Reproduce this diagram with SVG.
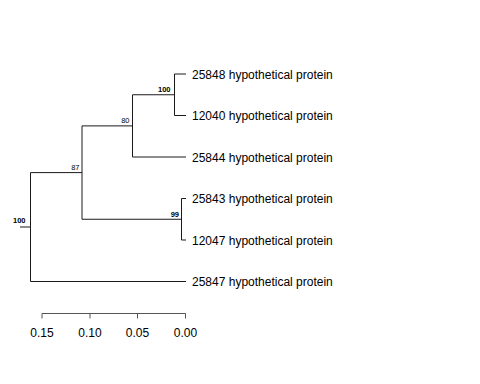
<svg xmlns="http://www.w3.org/2000/svg" width="480" height="384" viewBox="0 0 480 384">
<style>
.br{stroke:#1a1a1a;stroke-width:1;fill:none}
.ax{stroke:#555;stroke-width:1;fill:none}
.leaf{font-family:"Liberation Sans",Arial,sans-serif;font-size:12px;fill:#000}
.bs{font-family:"Liberation Sans",Arial,sans-serif;font-size:7.5px;fill:#000;text-anchor:end}
.bsb{font-weight:bold}
.tick{font-family:"Liberation Sans",Arial,sans-serif;font-size:12px;fill:#000;text-anchor:middle}
</style>
<rect width="480" height="384" fill="#fff"/>
<g id="connectors">
<path class="br" d="M174.5,74 V115.5 M174.5,74 H186 M174.5,115.5 H186"/>
<path class="br" d="M132.5,94.75 H174.5 M132.5,94.75 V157 M132.5,157 H186"/>
<path class="br" d="M181.5,198.5 V240 M181.5,198.5 H186 M181.5,240 H186"/>
<path class="br" d="M82,125.9 H132.5 M82,219.25 H181.5 M82,125.9 V219.25"/>
<path class="br" d="M30.5,172.6 H82 M30.5,172.6 V281.5 M30.5,281.5 H186 M20,227 H30.5"/>
</g>
<g id="leaf-25848"><text class="leaf" x="192" y="78.5">25848 hypothetical protein</text></g>
<g id="leaf-12040"><text class="leaf" x="192" y="120">12040 hypothetical protein</text></g>
<g id="leaf-25844"><text class="leaf" x="192" y="161.5">25844 hypothetical protein</text></g>
<g id="leaf-25843"><text class="leaf" x="192" y="203">25843 hypothetical protein</text></g>
<g id="leaf-12047"><text class="leaf" x="192" y="244.5">12047 hypothetical protein</text></g>
<g id="leaf-25847"><text class="leaf" x="192" y="286">25847 hypothetical protein</text></g>
<g id="node-100a"><text class="bs bsb" x="170.5" y="91.5">100</text></g>
<g id="node-80"><text class="bs" x="129.5" y="122.7">80</text></g>
<g id="node-87"><text class="bs" x="79.5" y="170">87</text></g>
<g id="node-99"><text class="bs bsb" x="179" y="216.7">99</text></g>
<g id="node-100root"><text class="bs bsb" x="25.5" y="222.5">100</text></g>
<g id="axis">
<path class="ax" d="M42,313.5 H185.5 M42,313.5 V318.5 M90,313.5 V318.5 M137.5,313.5 V318.5 M185.5,313.5 V318.5"/>
<text class="tick" x="42" y="337">0.15</text>
<text class="tick" x="90" y="337">0.10</text>
<text class="tick" x="137.5" y="337">0.05</text>
<text class="tick" x="185.5" y="337">0.00</text>
</g>
</svg>
